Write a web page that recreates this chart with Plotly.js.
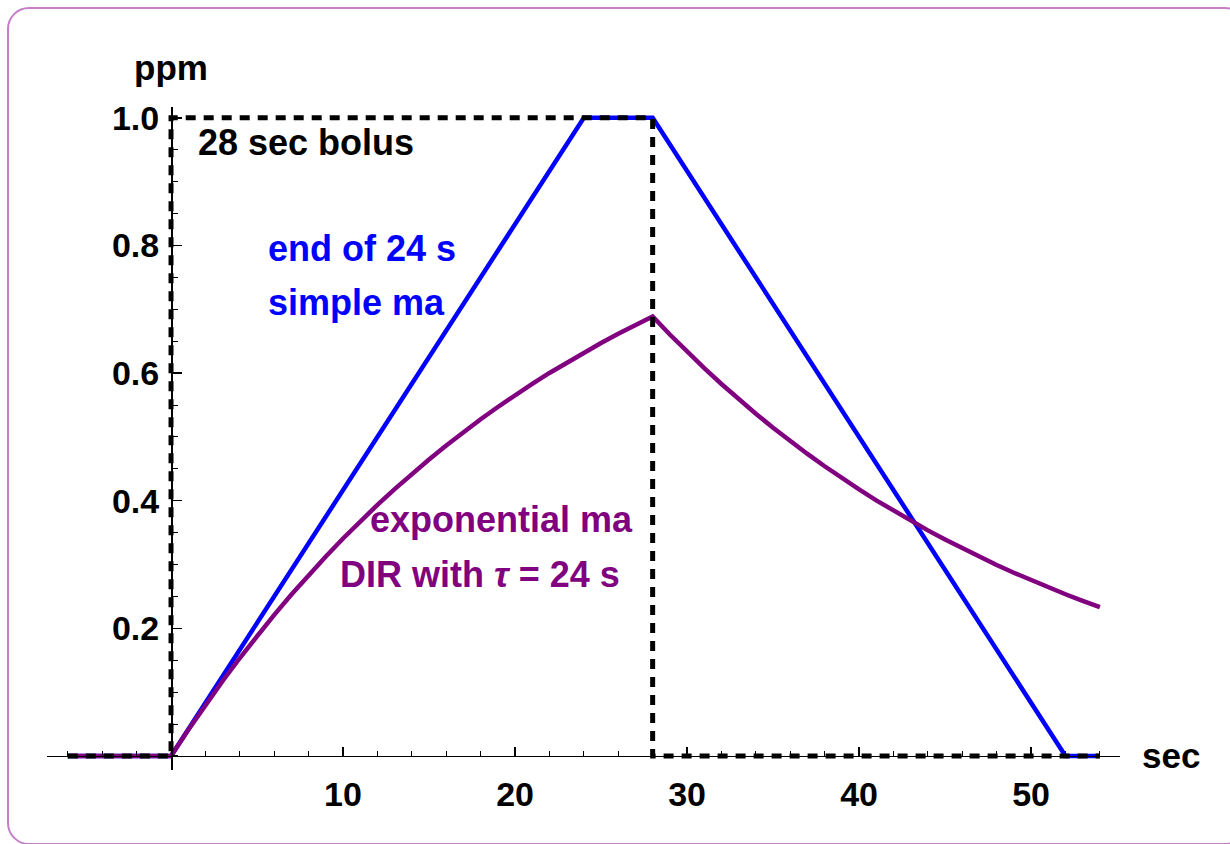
<!DOCTYPE html>
<html>
<head>
<meta charset="utf-8">
<script src="https://cdn.plot.ly/plotly-3.0.1.min.js"></script>
<style>
html,body{margin:0;padding:0;background:#fff;width:1230px;height:844px;overflow:hidden;}
#chart{position:absolute;left:0;top:0;width:1230px;height:844px;}
#clip{position:absolute;left:0;top:0;width:1230px;height:844px;overflow:hidden;pointer-events:none;}
#frame{position:absolute;left:7px;top:7px;width:1236px;height:834px;border:2.5px solid #c47fc8;border-radius:22px;}
</style>
</head>
<body>
<div id="chart"></div>
<div id="clip"><div id="frame"></div></div>
<script>
// Simple moving average response (blue)
const smaT = [-6, 0, 24, 28, 52, 54];
const smaY = [0, 0, 1, 1, 0, 0];

// 28 sec bolus (black dashed)
const bolusT = [-6, 0, 0, 28, 28, 54];
const bolusY = [0, 0, 1, 1, 0, 0];

// Exponential moving average response (purple)
const emaT = [-6, 0, 1, 2, 3, 4, 5, 6, 7, 8, 9, 10, 11, 12, 13, 14, 15, 16, 17, 18, 19, 20,
  21, 22, 23, 24, 25, 26, 27, 28, 29, 30, 31, 32, 33, 34, 35, 36, 37, 38, 39, 40,
  41, 42, 43, 44, 45, 46, 47, 48, 49, 50, 51, 52, 53, 54];
const emaY = [0, 0, 0.0408, 0.0800, 0.1175, 0.1535, 0.1881, 0.2212, 0.2530, 0.2835, 0.3127, 0.3408,
  0.3677, 0.3935, 0.4182, 0.4420, 0.4647, 0.4866, 0.5075, 0.5276, 0.5469, 0.5654,
  0.5831, 0.6002, 0.6165, 0.6321, 0.6471, 0.6615, 0.6754, 0.6886,
  0.6605, 0.6335, 0.6077, 0.5829, 0.5591, 0.5363, 0.5144, 0.4934, 0.4733, 0.4540,
  0.4354, 0.4177, 0.4006, 0.3843, 0.3686, 0.3535, 0.3391, 0.3253, 0.3120, 0.2993,
  0.2871, 0.2754, 0.2641, 0.2534, 0.2430, 0.2331];

const xTickVals = [10, 20, 30, 40, 50];
const yTickVals = [0.2, 0.4, 0.6, 0.8, 1.0];

const FONT = 'Liberation Sans, Arial, sans-serif';
const xr = [-7.21, 55.17];
const yr = [-0.022, 1.017];

const traces = [
  {x: smaT, y: smaY, mode: 'lines', line: {color: '#0000ff', width: 4.5}, hoverinfo: 'skip'},
  {x: emaT, y: emaY, mode: 'lines', line: {color: '#800080', width: 4.5}, hoverinfo: 'skip'},
  {x: bolusT, y: bolusY, mode: 'lines', line: {color: '#000000', width: 5, dash: '10px,8px'}, hoverinfo: 'skip'}
];

const layout = {
  width: 1230, height: 844,
  margin: {l: 47, r: 110, t: 107, b: 74},
  paper_bgcolor: '#ffffff', plot_bgcolor: 'rgba(0,0,0,0)',
  showlegend: false,
  xaxis: {
    range: xr, anchor: 'free', position: (0 - yr[0]) / (yr[1] - yr[0]),
    showgrid: false, zeroline: false, showline: true, linecolor: '#000', linewidth: 1.5,
    tickvals: xTickVals, ticktext: xTickVals.map(String),
    ticks: 'inside', ticklen: 9, tickwidth: 1.5, tickcolor: '#000',
    minor: {dtick: 2, tick0: 0, ticks: 'inside', ticklen: 5, tickwidth: 1, tickcolor: '#000', showgrid: false},
    tickfont: {family: FONT, size: 34, color: '#000', weight: 'bold'},
    ticklabelstandoff: 8
  },
  yaxis: {
    range: yr, anchor: 'free', position: (0 - xr[0]) / (xr[1] - xr[0]),
    showgrid: false, zeroline: false, showline: true, linecolor: '#000', linewidth: 1.5,
    tickvals: yTickVals, ticktext: yTickVals.map(v => v.toFixed(1)),
    ticks: 'inside', ticklen: 9, tickwidth: 1.5, tickcolor: '#000',
    minor: {dtick: 0.05, tick0: 0, ticks: 'inside', ticklen: 5, tickwidth: 1, tickcolor: '#000', showgrid: false},
    tickfont: {family: FONT, size: 34, color: '#000', weight: 'bold'},
    ticklabelstandoff: 5
  },
  annotations: [
    {x: 0, y: 1.017, xref: 'x', yref: 'y', text: 'ppm', showarrow: false, xanchor: 'center', yanchor: 'bottom', yshift: 18,
     font: {family: FONT, size: 35, color: '#000', weight: 'bold'}},
    {x: 55.17, y: 0, xref: 'x', yref: 'y', text: 'sec', showarrow: false, xanchor: 'left', yanchor: 'middle', xshift: 20,
     font: {family: FONT, size: 35, color: '#000', weight: 'bold'}},
    {x: 1.45, y: 0.961, xref: 'x', yref: 'y', text: '28 sec bolus', showarrow: false, xanchor: 'left', yanchor: 'middle',
     font: {family: FONT, size: 36, color: '#000', weight: 'bold'}},
    {x: 11.1, y: 0.796, xref: 'x', yref: 'y', text: 'end of 24 s', showarrow: false, xanchor: 'center', yanchor: 'middle',
     font: {family: FONT, size: 36, color: '#0000ff', weight: 'bold'}},
    {x: 10.76, y: 0.710, xref: 'x', yref: 'y', text: 'simple ma', showarrow: false, xanchor: 'center', yanchor: 'middle',
     font: {family: FONT, size: 36, color: '#0000ff', weight: 'bold'}},
    {x: 19.2, y: 0.371, xref: 'x', yref: 'y', text: 'exponential ma', showarrow: false, xanchor: 'center', yanchor: 'middle',
     font: {family: FONT, size: 36, color: '#800080', weight: 'bold'}},
    {x: 17.97, y: 0.284, xref: 'x', yref: 'y', text: 'DIR with <i>τ</i> = 24 s', showarrow: false, xanchor: 'center', yanchor: 'middle',
     font: {family: FONT, size: 36, color: '#800080', weight: 'bold'}}
  ]
};

Plotly.newPlot('chart', traces, layout, {displayModeBar: false, staticPlot: true});
</script>
</body>
</html>
